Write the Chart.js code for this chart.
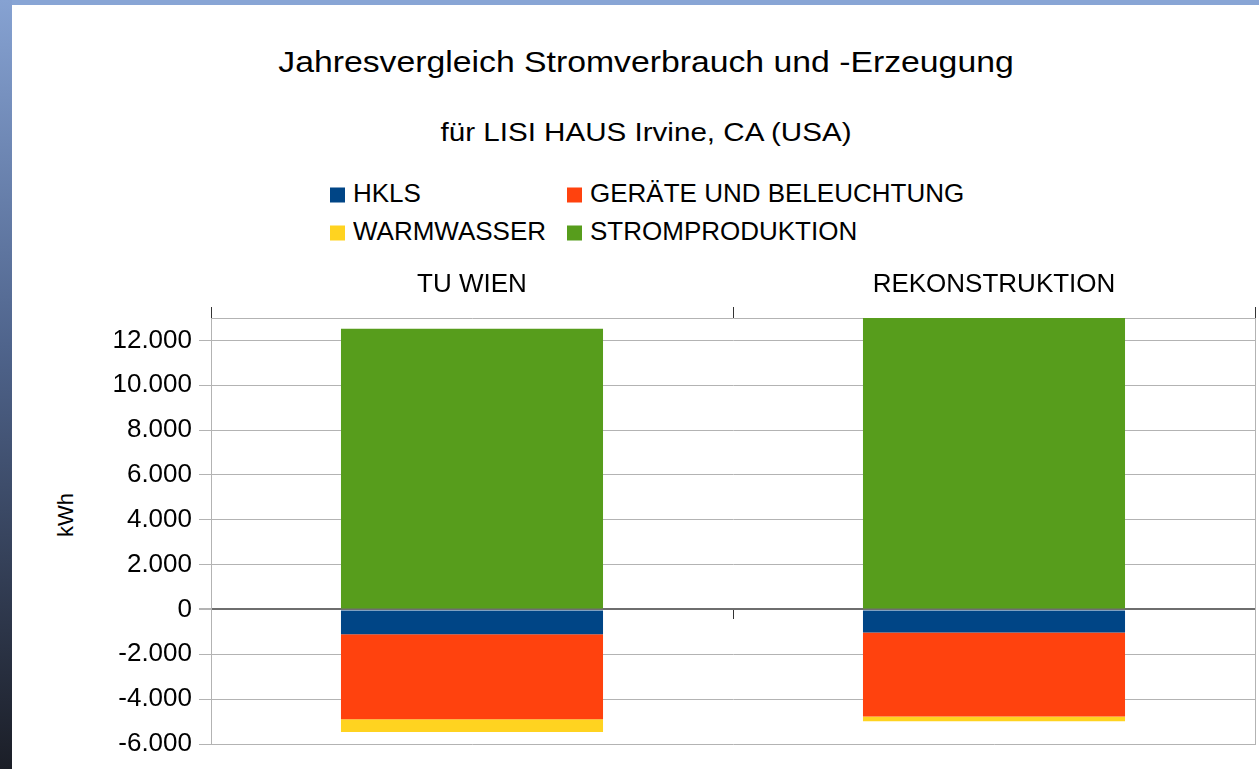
<!DOCTYPE html>
<html>
<head>
<meta charset="utf-8">
<script src="https://cdn.jsdelivr.net/npm/chart.js@4.4.1/dist/chart.umd.min.js"></script>
<style>
html,body{margin:0;padding:0;background:#fff;width:1259px;height:769px;overflow:hidden;font-family:"Liberation Sans",Arial,sans-serif;color:#000;}
#stripL{position:absolute;left:0;top:0;width:12px;height:769px;background:linear-gradient(#86a2d2,#4f648c 45%,#1b1e27);}
#stripT{position:absolute;left:0;top:0;width:1259px;height:5px;background:#88a5d5;}
#wrap{position:absolute;left:0;top:0;width:1259px;height:769px;}
.t{position:absolute;white-space:nowrap;line-height:1;}
#title{left:646px;top:62px;font-size:30px;transform:translate(-50%,-50%) scaleX(1.125);}
#subtitle{left:646px;top:132px;font-size:26px;transform:translate(-50%,-50%) scaleX(1.138);}
#ylab{left:66px;top:515px;font-size:22px;transform:translate(-50%,-50%) rotate(-90deg);}
.lg{position:absolute;white-space:nowrap;font-size:25px;line-height:1;transform:translateY(-50%);}
.lg i{display:inline-block;width:15px;height:15px;margin-right:8px;vertical-align:-1px;}
.lg span{display:inline-block;transform:scaleX(1.04);transform-origin:0 50%;}
</style>
</head>
<body>
<div id="stripT"></div>
<div id="stripL"></div>
<div class="t" id="title">Jahresvergleich Stromverbrauch und -Erzeugung</div>
<div class="t" id="subtitle">für LISI HAUS Irvine, CA (USA)</div>
<div class="t" id="ylab">kWh</div>
<div id="legend"></div>
<div id="wrap"><canvas id="c" width="1259" height="769"></canvas></div>
<script>
// ---- data ----
const categories = ['TU WIEN', 'REKONSTRUKTION'];
const seriesNames = ['HKLS', 'GERÄTE UND BELEUCHTUNG', 'WARMWASSER', 'STROMPRODUKTION'];
const seriesColors = ['#004586', '#ff420e', '#ffd320', '#579d1c'];
const hkls = [-1110, -1030];
const geraete = [-3790, -3740];
const warmwasser = [-570, -220];
const stromproduktion = [12520, 13000];
const yTicks = [-6000, -4000, -2000, 0, 2000, 4000, 6000, 8000, 10000, 12000];
const yMin = -6000, yMax = 13000;

const seriesValues = [hkls, geraete, warmwasser, stromproduktion];
const FONT = '"Liberation Sans", Arial, sans-serif';

// ---- HTML legend (2 x 2 grid) ----
const legendEl = document.getElementById('legend');
const colX = [330, 567], rowY = [193, 231];
seriesNames.forEach((n, i) => {
  const d = document.createElement('div');
  d.className = 'lg';
  d.style.left = colX[i % 2] + 'px';
  d.style.top = rowY[Math.floor(i / 2)] + 'px';
  d.innerHTML = '<i style="background:' + seriesColors[i] + '"></i><span>' + n + '</span>';
  legendEl.appendChild(d);
});

function fmt(v) {
  if (v === 0) return '0';
  const s = Math.abs(v).toString().replace(/\B(?=(\d{3})+(?!\d))/g, '.');
  return (v < 0 ? '-' : '') + s;
}

new Chart(document.getElementById('c'), {
  type: 'bar',
  data: {
    labels: categories,
    datasets: seriesNames.map((n, i) => ({
      label: n,
      data: seriesValues[i],
      backgroundColor: seriesColors[i],
      borderWidth: 0,
      barPercentage: 1,
      categoryPercentage: 0.502
    }))
  },
  options: {
    responsive: false,
    animation: false,
    devicePixelRatio: 1,
    layout: { padding: { left: 0, right: 0, top: 0, bottom: 25 } },
    plugins: { legend: { display: false }, title: { display: false }, tooltip: { enabled: false } },
    scales: {
      x: {
        type: 'category',
        position: 'top',
        stacked: true,
        offset: true,
        grid: { offset: true, drawOnChartArea: false, drawTicks: true, tickLength: 11, color: '#333', tickColor: '#333' },
        border: { display: true, color: '#b3b3b3' },
        ticks: { font: { family: FONT, size: 26 }, color: '#000', padding: 7, maxRotation: 0, autoSkip: false },
        afterFit: s => { s.height = 318; }
      },
      x2: {
        type: 'category',
        axis: 'x',
        position: { y: 0 },
        offset: true,
        grid: { offset: true, drawOnChartArea: false, drawTicks: true, tickLength: 10, color: '#333', tickColor: '#333' },
        border: { display: false },
        ticks: { display: false }
      },
      y: {
        type: 'linear',
        position: 'left',
        stacked: true,
        min: yMin,
        max: yMax,
        afterBuildTicks: s => { s.ticks = yTicks.map(v => ({ value: v })); },
        ticks: { font: { family: FONT, size: 26 }, color: '#000', padding: 7, callback: v => fmt(v) },
        grid: {
          color: ctx => (ctx.tick && ctx.tick.value === 0) ? '#6e6e6e' : '#b3b3b3',
          lineWidth: ctx => (ctx.tick && ctx.tick.value === 0) ? 2 : 1,
          tickLength: 12,
          tickColor: '#b3b3b3'
        },
        border: { display: true, color: '#b3b3b3' },
        afterFit: s => { s.width = 211; }
      },
      y2: {
        type: 'linear',
        position: 'right',
        min: yMin,
        max: yMax,
        grid: { display: false },
        ticks: { display: false },
        border: { display: true, color: '#b3b3b3' },
        afterFit: s => { s.width = 4; }
      }
    }
  }
});
</script>
</body>
</html>
